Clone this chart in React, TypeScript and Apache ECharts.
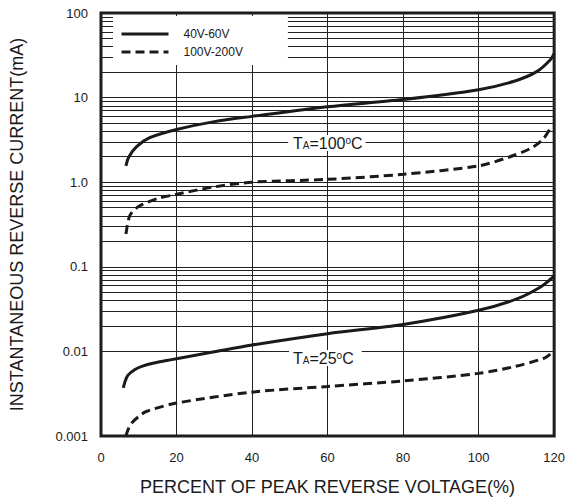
import React, { useEffect, useRef } from "react";
import * as echarts from "echarts";

// ---- data ----
const xTickValues = [0, 20, 40, 60, 80, 100, 120];
const yDecades = [0.001, 0.01, 0.1, 1, 10, 100];
const yTickLabels = ["0.001", "0.01", "0.1", "1.0", "10", "100"];
const minorMultipliers = [2, 3, 4, 5, 6, 7, 8, 9];

// T_A = 100°C, 40V-60V (solid)
const hot4060: [number, number][] = [
  [6.6, 1.56], [7.4, 2.0], [9.5, 2.65], [12.9, 3.36], [20, 4.2], [30, 5.2],
  [40, 6.0], [60, 7.8], [80, 9.5], [100, 12.4], [109.4, 15.6], [115.5, 20.4],
  [119, 28], [120, 33],
];
// T_A = 100°C, 100V-200V (dashed)
const hot100200: [number, number][] = [
  [6.6, 0.244], [7.0, 0.31], [7.6, 0.4], [9, 0.48], [11.1, 0.55], [15, 0.64],
  [20, 0.72], [30, 0.88], [40, 1.0], [60, 1.08], [80, 1.24], [100, 1.56],
  [107.6, 1.95], [113.7, 2.5], [117, 3.2], [118.8, 4.2],
];
// T_A = 25°C, 40V-60V (solid)
const cold4060: [number, number][] = [
  [5.9, 0.0037], [6.3, 0.0043], [7.1, 0.0052], [9, 0.0061], [11, 0.0067],
  [14, 0.0073], [17.4, 0.0078], [20, 0.0082], [30, 0.0099], [40, 0.0119],
  [60, 0.0162], [80, 0.0208], [100, 0.0306], [110.3, 0.042], [116.4, 0.0577],
  [119.2, 0.0723], [120, 0.078],
];
// T_A = 25°C, 100V-200V (dashed)
const cold100200: [number, number][] = [
  [6.6, 0.001], [7.2, 0.0012], [8.1, 0.00142], [10, 0.0017], [12, 0.00195],
  [20, 0.00245], [40, 0.0033], [60, 0.00385], [80, 0.00448], [100, 0.0055],
  [109.4, 0.0066], [117.3, 0.0083], [119, 0.0093],
];

const seriesNames = ["40V-60V", "100V-200V"];
const FONT = "'Liberation Sans', Arial, sans-serif";
const INK = "#1a1a1a";

const richStyles = {
  t: { fontSize: 16, fontFamily: FONT, fill: INK, lineHeight: 16, verticalAlign: "bottom" },
  s: { fontSize: 10, fontFamily: FONT, fill: INK, lineHeight: 16, verticalAlign: "bottom", padding: [0, 0, 1, 0] },
  o: { fontSize: 10, fontFamily: FONT, fill: INK, lineHeight: 16, verticalAlign: "top" },
};

export default function App() {
  const ref = useRef<HTMLDivElement>(null);
  useEffect(() => {
    if (!ref.current) return;
    const chart = echarts.init(ref.current, undefined, { renderer: "svg" });

    const minorLines: number[] = [];
    yDecades.slice(0, -1).forEach((d) => minorMultipliers.forEach((m) => minorLines.push(+(d * m).toPrecision(3))));

    const labelMap: Record<string, string> = {};
    yDecades.forEach((d, i) => (labelMap[String(d)] = yTickLabels[i]));

    const solid = { color: INK, width: 3, type: "solid" as const };
    const dashed = { color: INK, width: 3, type: [9, 5] as any };

    const mkLine = (name: string, data: [number, number][], ls: any, extra: any = {}) => ({
      type: "line",
      name,
      data,
      symbol: "none",
      smooth: 0.3,
      lineStyle: ls,
      itemStyle: { color: INK },
      z: 3,
      silent: true,
      ...extra,
    });

    chart.setOption({
      animation: false,
      backgroundColor: "#fff",
      textStyle: { fontFamily: FONT },
      grid: {
        left: 101,
        right: 12,
        top: 13,
        bottom: 62,
        show: true,
        borderColor: INK,
        borderWidth: 3,
      },
      legend: {
        data: seriesNames,
        orient: "vertical",
        left: 113,
        top: 16,
        backgroundColor: "#fff",
        padding: [12, 45, 7, 7],
        itemWidth: 47,
        itemHeight: 12,
        itemGap: 6,
        itemStyle: { color: "transparent", borderColor: "transparent", borderWidth: 0 },
        lineStyle: { width: 3, color: INK },
        textStyle: { fontSize: 12, color: INK, fontFamily: FONT, padding: [0, 0, 0, 10] },
        z: 10,
      },
      xAxis: {
        type: "value",
        min: xTickValues[0],
        max: xTickValues[xTickValues.length - 1],
        interval: 20,
        axisLine: { show: false },
        axisTick: { show: false },
        splitLine: { show: true, lineStyle: { color: "#222", width: 1 } },
        axisLabel: { fontSize: 13, color: INK, margin: 15, fontFamily: FONT },
        name: "PERCENT OF PEAK REVERSE VOLTAGE(%)",
        nameLocation: "middle",
        nameGap: 42,
        nameTextStyle: { fontSize: 18, color: INK, fontFamily: FONT },
      },
      yAxis: {
        type: "log",
        logBase: 10,
        min: yDecades[0],
        max: yDecades[yDecades.length - 1],
        axisLine: { show: false },
        axisTick: { show: false },
        splitLine: { show: true, lineStyle: { color: "#222", width: 1 } },
        axisLabel: {
          fontSize: 13,
          color: INK,
          margin: 13,
          fontFamily: FONT,
          formatter: (v: number) => labelMap[String(+v.toPrecision(3))] ?? "",
        },
        name: "INSTANTANEOUS REVERSE CURRENT(mA)",
        nameLocation: "middle",
        nameGap: 75,
        nameTextStyle: { fontSize: 18, color: INK, fontFamily: FONT },
      },
      series: [
        mkLine(seriesNames[0], hot4060, solid, {
          markLine: {
            silent: true,
            symbol: "none",
            label: { show: false },
            lineStyle: { color: "#222", width: 1, type: "solid" },
            data: minorLines.map((v) => ({ yAxis: v })),
            z: 1,
          },
        }),
        mkLine(seriesNames[1], hot100200, dashed),
        mkLine(seriesNames[0], cold4060, solid),
        mkLine(seriesNames[1], cold100200, dashed),
      ],
      graphic: [
        {
          type: "text",
          z: 100,
          x: 288,
          y: 135,
          style: {
            text: "{t|T}{s|A}{t|=100}{o|o}{t|C}",
            backgroundColor: "#fff",
            padding: [0, 3, 0, 5],
            rich: richStyles,
          },
        },
        {
          type: "text",
          z: 100,
          x: 289,
          y: 350,
          style: {
            text: "{t|T}{s|A}{t|=25}{o|o}{t|C}",
            backgroundColor: "#fff",
            padding: [0, 8, 0, 4],
            rich: richStyles,
          },
        },
      ],
    });
    return () => chart.dispose();
  }, []);
  return <div ref={ref} style={{ width: 568, height: 501, position: "absolute", left: 0, top: 0 }} />;
}
